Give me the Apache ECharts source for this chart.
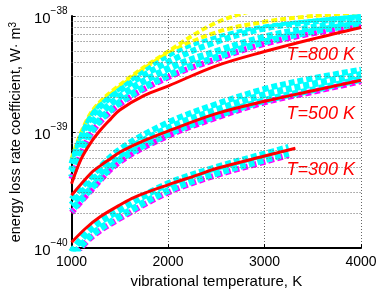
<!DOCTYPE html>
<html>
<head>
<meta charset="utf-8">
<script src="https://cdn.jsdelivr.net/npm/echarts@6/dist/echarts.min.js"></script>
<style>
html,body{margin:0;padding:0;background:#fff;}
#c{width:382px;height:294px;}
</style>
</head>
<body>
<div id="c"></div>
<script>
// ---- data ----
const xTicks = [1000, 2000, 3000, 4000];
const yMajor = [1e-40, 1e-39, 1e-38];
const yMinor = [2e-40,3e-40,4e-40,5e-40,6e-40,7e-40,8e-40,9e-40,2e-39,3e-39,4e-39,5e-39,6e-39,7e-39,8e-39,9e-39];

// red model curves
const red800X = [1000,1100,1200,1300,1400,1500,1750,2000,2500,3000,3500,4000];
const red800Y = [3.58e-40,5.87e-40,8.11e-40,1.04e-39,1.28e-39,1.55e-39,2.06e-39,2.49e-39,3.72e-39,4.94e-39,6.34e-39,7.96e-39];
const red500X = [1000,1200,1300,1400,1500,1750,2000,2500,3000,3500,4000];
const red500Y = [2.85e-40,4.42e-40,5.14e-40,5.87e-40,6.70e-40,8.43e-40,1.02e-39,1.44e-39,1.84e-39,2.27e-39,2.79e-39];
const red300X = [1000,1150,1300,1500,1650,2000,2300,2500,3000,3320];
const red300Y = [1.12e-40,1.49e-40,1.87e-40,2.35e-40,2.74e-40,3.51e-40,4.25e-40,4.85e-40,6.21e-40,7.24e-40];

// dashed bands (T=800)
const bandX = [1000,1200,1500,2000,2500,3000,3500,4000];
const b800Yel1 = [5.87e-40,1.46e-39,2.54e-39,4.94e-39,8.75e-39,1.165e-38,1.306e-38,1.44e-38];
const b800Yel2 = [5.54e-40,1.41e-39,2.45e-39,4.76e-39,7.24e-39,8.92e-39,1.0e-38,1.079e-38];
const b800CyE  = [5.44e-40,1.38e-39,2.35e-39,4.50e-39,6.58e-39,8.11e-39,9.09e-39,1.0e-38];
const b800Cy1  = [5.34e-40,1.33e-39,2.27e-39,4.01e-39,5.98e-39,7.81e-39,8.92e-39,9.81e-39];
const b800Cy2  = [4.67e-40,1.14e-39,2.02e-39,3.51e-39,4.94e-39,6.58e-39,7.96e-39,9.09e-39];
const b800Cy3  = [4.09e-40,1.00e-39,1.80e-39,3.07e-39,4.41e-39,5.98e-39,7.38e-39,8.59e-39];
const b800Mag  = [3.94e-40,9.63e-40,1.74e-39,2.96e-39,4.25e-39,5.76e-39,7.10e-39,8.27e-39];
// T=500
const b500Cy1 = [2.64e-40,4.09e-40,7.10e-40,1.21e-39,1.74e-39,2.35e-39,2.90e-39,3.44e-39];
const b500Cy2 = [2.35e-40,3.65e-40,6.33e-40,1.08e-39,1.55e-39,2.10e-39,2.59e-39,3.13e-39];
const b500Cy3 = [2.10e-40,3.25e-40,5.76e-40,9.63e-40,1.38e-39,1.87e-39,2.31e-39,2.85e-39];
const b500Mag = [2.02e-40,3.13e-40,5.54e-40,9.27e-40,1.33e-39,1.80e-39,2.22e-39,2.74e-39];
// T=300
const band300X = [1000,1200,1500,2000,2500,3000,3250];
const b300Cy1 = [9.27e-41,1.46e-40,2.14e-40,3.58e-40,4.94e-40,6.45e-40,7.38e-40];
const b300Cy2 = [8.27e-41,1.28e-40,1.87e-40,3.13e-40,4.41e-40,5.76e-40,6.58e-40];
const b300Mag = [7.96e-41,1.23e-40,1.80e-40,3.01e-40,4.25e-40,5.54e-40,6.33e-40];

const labels = ['T=800 K', 'T=500 K', 'T=300 K'];

// ---- build ----
// ECharts rounds tiny numbers to 20 decimals, so values are fed to the log axis
// in units of 1e-40 and the tick labels restore the true exponent.
const UNIT_EXP = -40;
const S = v => v * Math.pow(10, -UNIT_EXP);
const zip = (xs, ys) => xs.map((x, i) => [x, S(ys[i])]);
const FONT = 'Liberation Sans';
const CY = '#00ffff', MG = '#ff00ff', YL = '#ffff00', RD = '#ff0000';

function dashed(xs, ys, color, w, off, z) {
  return {
    type: 'line', data: zip(xs, ys), smooth: 0.35, symbol: 'none', silent: true,
    lineStyle: { color: color, width: w, type: [6, 3], dashOffset: off || 0, cap: 'butt' },
    z: z || 2
  };
}
function solid(xs, ys) {
  return {
    type: 'line', data: zip(xs, ys), smooth: 0.35, symbol: 'none', silent: true,
    lineStyle: { color: RD, width: 3 }, z: 5
  };
}

const series = [
  {
    type: 'line', data: [], silent: true,
    markLine: {
      silent: true, symbol: 'none', label: { show: false },
      lineStyle: { color: '#666', width: 1, type: [1, 2] },
      data: yMinor.map(v => ({ yAxis: S(v) }))
    }, z: 1
  },
  dashed(bandX, b800Yel1, YL, 4, 0, 2),
  dashed(bandX, b800Yel2, YL, 4, 2, 2),
  dashed(bandX, b800Mag, MG, 6, 1, 2),
  dashed(bandX, b800CyE, CY, 4, 3, 3),
  dashed(bandX, b800Cy1, CY, 6, 0, 3),
  dashed(bandX, b800Cy2, CY, 7, 2, 3),
  dashed(bandX, b800Cy3, CY, 7, 4, 3),
  dashed(bandX, b500Mag, MG, 6, 1, 2),
  dashed(bandX, b500Cy1, CY, 6, 0, 3),
  dashed(bandX, b500Cy2, CY, 7, 3, 3),
  dashed(bandX, b500Cy3, CY, 7, 5, 3),
  dashed(band300X, b300Mag, MG, 6, 1, 2),
  dashed(band300X, b300Cy1, CY, 7, 0, 3),
  dashed(band300X, b300Cy2, CY, 7, 3, 3),
  solid(red800X, red800Y),
  solid(red500X, red500Y),
  solid(red300X, red300Y)
];

const chart = echarts.init(document.getElementById('c'), null, { renderer: 'canvas' });
chart.setOption({
  animation: false,
  backgroundColor: '#fff',
  grid: { left: 62, right: 21, top: 16, bottom: 36, containLabel: false },
  xAxis: {
    type: 'value', min: xTicks[0], max: xTicks[xTicks.length - 1], interval: 1000,
    name: 'vibrational temperature, K', nameLocation: 'middle', nameGap: 21,
    nameTextStyle: { fontFamily: FONT, fontSize: 15, color: '#000', verticalAlign: 'top' },
    axisLine: { lineStyle: { color: '#000', width: 2 } },
    axisTick: { inside: true, length: 4, lineStyle: { color: '#000', width: 1 } },
    axisLabel: { fontFamily: FONT, fontSize: 14, color: '#000', margin: 7, formatter: v => String(v) },
    splitLine: { show: true, lineStyle: { color: '#666', width: 1, type: [1, 2] } }
  },
  yAxis: {
    type: 'log', logBase: 10, min: S(yMajor[0]), max: S(yMajor[yMajor.length - 1]),
    name: 'energy loss rate coefficient, W· m{sup|3}', nameLocation: 'middle', nameGap: 40, nameRotate: 90,
    nameTextStyle: {
      fontFamily: FONT, fontSize: 14.5, color: '#000',
      rich: { sup: { fontFamily: FONT, fontSize: 10, color: '#000', verticalAlign: 'top', lineHeight: 10 } }
    },
    axisLine: { show: true, lineStyle: { color: '#000', width: 2 } },
    axisTick: { inside: true, length: 4, lineStyle: { color: '#000', width: 1 } },
    axisLabel: {
      margin: 4,
      formatter: v => {
        const e = Math.round(Math.log10(v)) + UNIT_EXP;
        return '{b|10}{s|\u2212' + Math.abs(e) + '}';
      },
      rich: {
        b: { fontFamily: FONT, fontSize: 15, color: '#000', verticalAlign: 'bottom', lineHeight: 20 },
        s: { fontFamily: FONT, fontSize: 10, color: '#000', verticalAlign: 'top', lineHeight: 10 }
      }
    },
    splitLine: { show: true, lineStyle: { color: '#666', width: 1, type: [1, 2] } }
  },
  graphic: [
    { type: 'text', style: { text: labels[0], x: 355, y: 55, align: 'right', verticalAlign: 'middle', fill: RD, font: 'italic 18px "Liberation Sans"' }, z: 10 },
    { type: 'text', style: { text: labels[1], x: 355, y: 114, align: 'right', verticalAlign: 'middle', fill: RD, font: 'italic 18px "Liberation Sans"' }, z: 10 },
    { type: 'text', style: { text: labels[2], x: 355, y: 170, align: 'right', verticalAlign: 'middle', fill: RD, font: 'italic 18px "Liberation Sans"' }, z: 10 }
  ],
  series: series
});
</script>
</body>
</html>
